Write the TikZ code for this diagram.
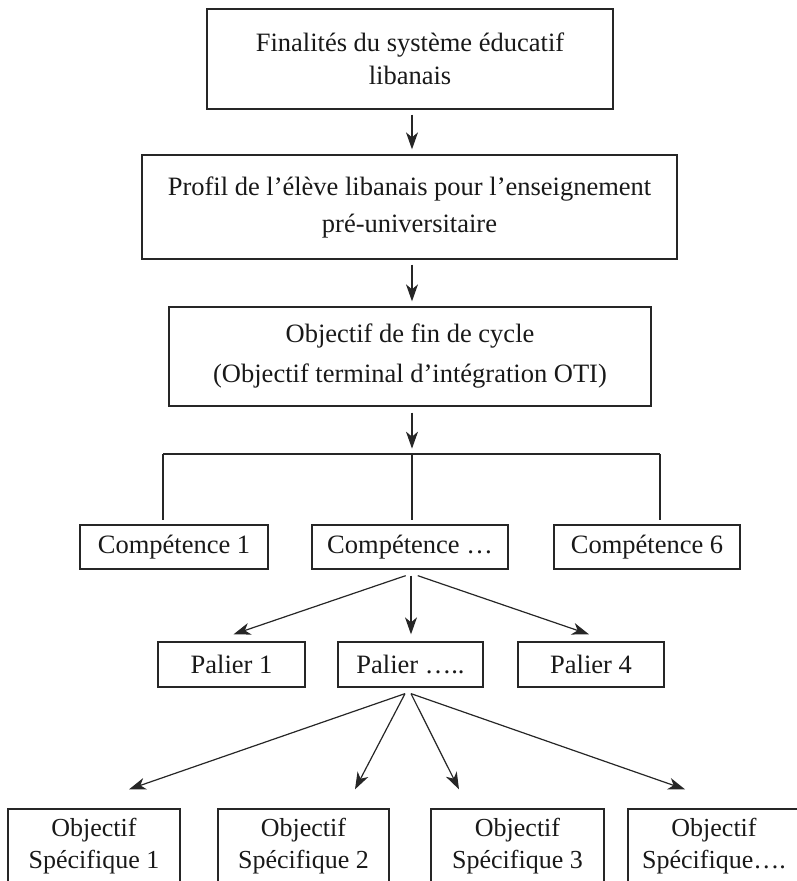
\documentclass[tikz,border=0pt]{standalone}
\usepackage{fontspec}
\setmainfont{Liberation Serif}
\usepackage{tikz}
\usetikzlibrary{arrows.meta, positioning}
\tikzstyle{boite}=
[
	rectangle
	, draw=black!85
	, line width=1.3pt
	, inner sep=0pt
	, align=center
	, text=black!90
	, font=\fontsize{26.5}{33}\selectfont
]
\tikzstyle{arrow} = [line width=1.2pt,draw=black!85,->,>={Stealth[length=17pt,width=12pt,inset=5pt]}]
\tikzstyle{line} = [line width=1.2pt,draw=black!85,-]

\begin{document}
\begin{tikzpicture}[x=1pt,y=1pt]
\useasboundingbox (0,0) rectangle (796,881);
\node(fin)[boite,minimum width=406pt,minimum height=100pt] at (410,822) {Finalités du système éducatif\\libanais};
\node(profil)[boite,below of=fin,node distance=148pt,xshift=-0.5pt,minimum width=535pt,minimum height=104pt,font=\fontsize{26.5}{37}\selectfont]{Profil de l’élève libanais pour l’enseignement\\pré-universitaire};
\node(oti)[boite,below of=profil,node distance=149.5pt,xshift=0.5pt,minimum width=482pt,minimum height=99pt,font=\fontsize{26.5}{40}\selectfont]{Objectif de fin de cycle\\(Objectif terminal d’intégration OTI)};

\node(compx)[boite,below of=oti,node distance=190.5pt,minimum width=196pt,minimum height=44pt]{Compétence …};
\node(comp1)[boite,below of=oti,node distance=190.5pt,xshift=-236pt,minimum width=188pt,minimum height=44pt]{Compétence 1};
\node(comp6)[boite,below of=oti,node distance=190.5pt,xshift=237pt,minimum width=186pt,minimum height=44pt]{Compétence 6};

\node(palx)[boite,below of=compx,node distance=117.5pt,xshift=0.5pt,minimum width=145pt,minimum height=45pt]{Palier …..};
\node(pal1)[boite,below of=compx,node distance=117.5pt,xshift=-178.5pt,minimum width=147pt,minimum height=45pt]{Palier 1};
\node(pal4)[boite,below of=compx,node distance=117.5pt,xshift=181pt,minimum width=146pt,minimum height=45pt]{Palier 4};

\node(obj1)[boite,below of=palx,node distance=181.5pt,xshift=-316.5pt,minimum width=172pt,minimum height=74pt,font=\fontsize{26}{32}\selectfont]{Objectif\\Spécifique 1};
\node(obj2)[boite,below of=palx,node distance=181.5pt,xshift=-107pt,minimum width=171pt,minimum height=74pt,font=\fontsize{26}{32}\selectfont]{Objectif\\Spécifique 2};
\node(obj3)[boite,below of=palx,node distance=181.5pt,xshift=107pt,minimum width=173pt,minimum height=74pt,font=\fontsize{26}{32}\selectfont]{Objectif\\Spécifique 3};
\node(obj4)[boite,below of=palx,node distance=181.5pt,xshift=303.5pt,minimum width=172pt,minimum height=74pt,font=\fontsize{26}{32}\selectfont]{Objectif\\Spécifique….};

\coordinate(split) at ([xshift=2pt,yshift=-48pt]oti.south);
\coordinate(hg) at (163,427);
\coordinate(hd) at (660,427);

\draw[arrow,shorten <=5pt,shorten >=5pt]([xshift=2pt]fin.south)--([xshift=2.5pt]profil.north);
\draw[arrow,shorten <=5pt,shorten >=5pt]([xshift=2.5pt]profil.south)--([xshift=2pt]oti.north);
\draw[arrow,shorten <=6pt,shorten >=6pt]([xshift=2pt]oti.south)--(split);

\draw[line](hg)--(hd);
\draw[line,shorten >=4pt](hg)--(hg |- comp1.north);
\draw[line,shorten >=4pt](split)--(split |- compx.north);
\draw[line,shorten >=4pt](hd)--(hd |- comp6.north);

\draw[arrow]([xshift=-4.3pt,yshift=-6pt]compx.south)--([xshift=2pt,yshift=7pt]pal1.north);
\draw[arrow,shorten <=6pt,shorten >=7pt]([xshift=1pt]compx.south)--([xshift=0.5pt]palx.north);
\draw[arrow]([xshift=7.7pt,yshift=-6pt]compx.south)--([xshift=-2pt,yshift=7pt]pal4.north);

\draw[arrow]([xshift=-5.5pt,yshift=-6pt]palx.south)--([xshift=35pt,yshift=19pt]obj1.north);
\draw[arrow]([xshift=-5.5pt,yshift=-6pt]palx.south)--([xshift=51.5pt,yshift=19pt]obj2.north);
\draw[arrow]([xshift=0.5pt,yshift=-6pt]palx.south)--([xshift=-58.5pt,yshift=19pt]obj3.north);
\draw[arrow]([xshift=0.5pt,yshift=-6pt]palx.south)--([xshift=-29pt,yshift=19pt]obj4.north);

\end{tikzpicture}
\end{document}
